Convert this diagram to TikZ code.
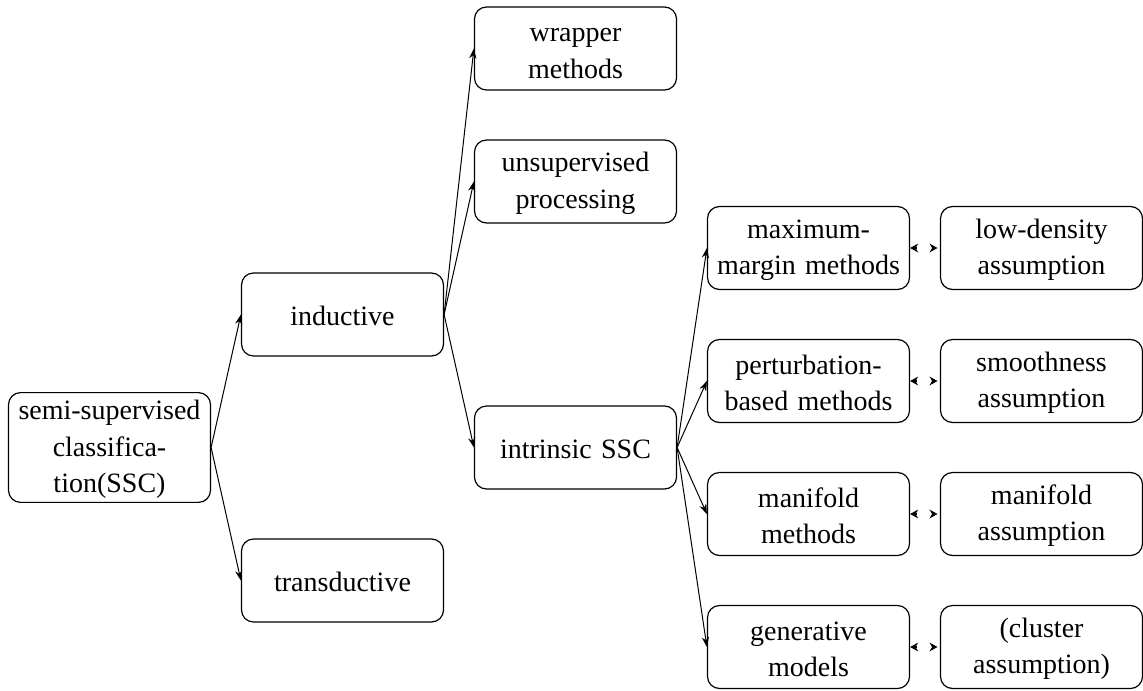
\documentclass[tikz,border=0pt]{standalone}
\usepackage{fontspec}
\setmainfont{Liberation Serif}
\usetikzlibrary{arrows.meta}
\begin{document}
\begin{tikzpicture}[x=0.5pt,y=-0.5pt,
  box/.style={draw, line width=0.6pt, rounded corners=6pt, text width=99pt, inner xsep=1pt, inner ysep=1.9pt,
    minimum height=41.5pt, align=center, font=\fontsize{14}{18.25}\selectfont,
    execute at begin node={\rule{0pt}{11.6pt}}},
  conn/.style={line width=0.5pt, -{Stealth[length=5pt,width=3.6pt,inset=1.6pt]}},
  pair/.style={line width=0.7pt, dash pattern=on 1pt off 30pt, shorten >=1.2pt,
    {Stealth[length=4pt,width=4.4pt,inset=1.3pt]}-{Stealth[length=4pt,width=4.4pt,inset=1.3pt]}}]
\useasboundingbox (0,0) rectangle (1143,690);
\def\yc{447.5}
\node[box] (ssc) at (109.5,\yc) {semi-supervised\\classifica-\\tion(SSC)};
\node[box] (ind) at (342.5,\yc-133) {inductive};
\node[box] (tra) at (342.5,\yc+133) {transductive};
\node[box] (wra) at (575.5,\yc-399) {wrapper\\methods};
\node[box] (uns) at (575.5,\yc-266) {unsupervised\\processing};
\node[box] (int) at (575.5,\yc) {intrinsic SSC};
\node[box] (mm) at (808.5,\yc-199.5) {maximum-\\margin methods};
\node[box] (pb) at (808.5,\yc-66.5) {perturbation-\\based methods};
\node[box] (mf) at (808.5,\yc+66.5) {manifold\\methods};
\node[box] (gm) at (808.5,\yc+199.5) {generative\\models};
\node[box] (ld) at (1041.5,\yc-199.5) {low-density\\assumption};
\node[box] (sm) at (1041.5,\yc-66.5) {smoothness\\assumption};
\node[box] (ma) at (1041.5,\yc+66.5) {manifold\\assumption};
\node[box] (cl) at (1041.5,\yc+199.5) {(cluster\\assumption)};
\draw[conn] (ssc.east) -- (ind.west);
\draw[conn] (ssc.east) -- (tra.west);
\draw[conn] (ind.east) -- (wra.west);
\draw[conn] (ind.east) -- (uns.west);
\draw[conn] (ind.east) -- (int.west);
\draw[conn] (int.east) -- (mm.west);
\draw[conn] (int.east) -- (pb.west);
\draw[conn] (int.east) -- (mf.west);
\draw[conn] (int.east) -- (gm.west);
\draw[pair] (mm.east) -- (ld.west);
\draw[pair] (pb.east) -- (sm.west);
\draw[pair] (mf.east) -- (ma.west);
\draw[pair] (gm.east) -- (cl.west);
\end{tikzpicture}
\end{document}
